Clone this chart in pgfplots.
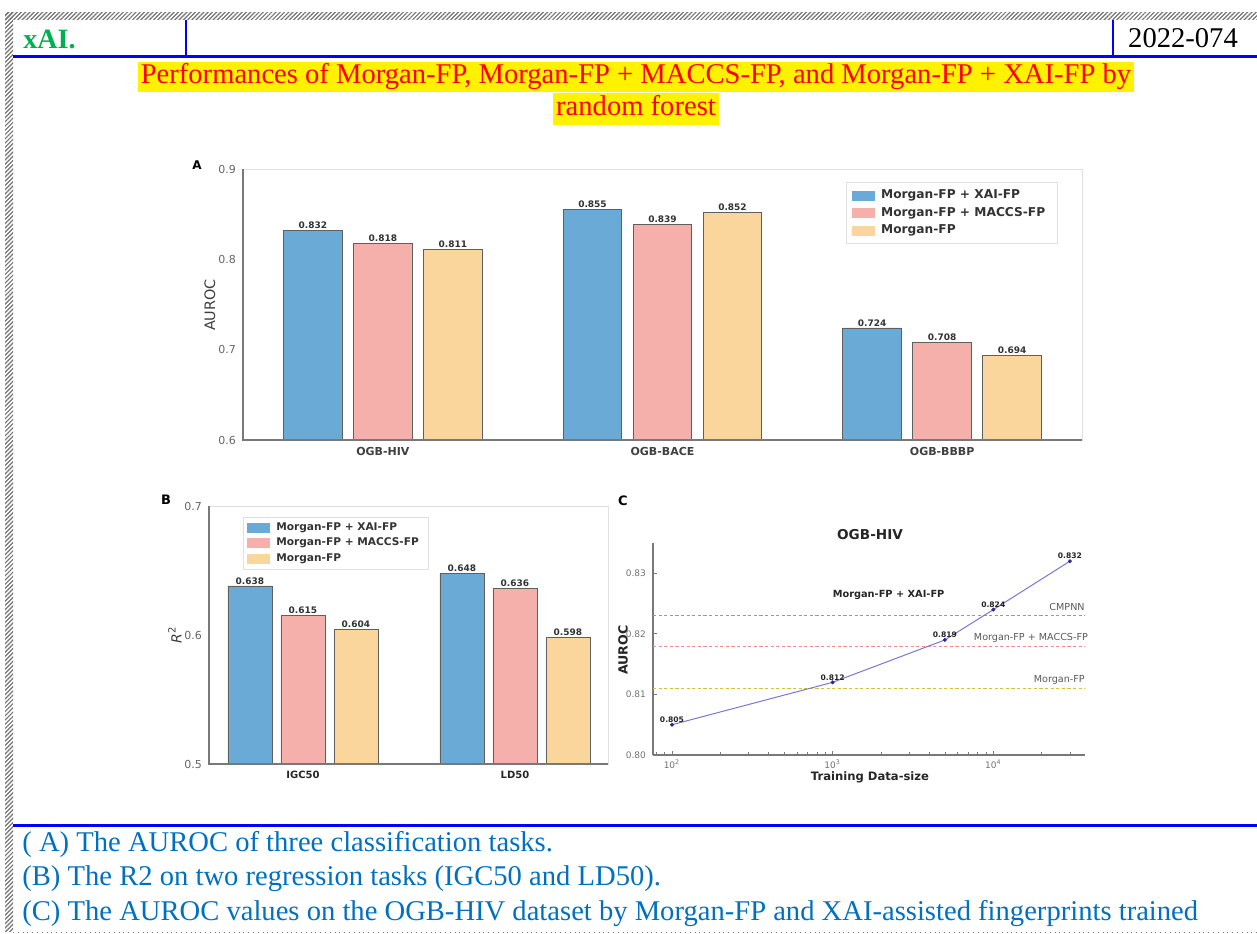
\documentclass[border=0pt]{standalone}
\usepackage{pgfplots}
\pgfplotsset{compat=1.18}
\usetikzlibrary{patterns.meta}
\usepackage{fontspec}
\setmainfont{Liberation Serif}
\newfontfamily\dv{DejaVu Sans}
\newcommand\fs[1]{\fontsize{#1}{#1}\selectfont}
\definecolor{cblue}{RGB}{106,170,214}
\definecolor{cpink}{RGB}{246,176,172}
\definecolor{cpeach}{RGB}{250,214,156}
\definecolor{edge}{RGB}{95,95,95}
\definecolor{spine}{RGB}{120,120,120}
\definecolor{xgreen}{RGB}{0,176,80}
\definecolor{capblue}{RGB}{0,112,192}
\definecolor{lineblue}{RGB}{120,120,210}
\definecolor{dotnavy}{RGB}{40,40,140}
\definecolor{dashred}{RGB}{240,140,140}
\definecolor{dashyel}{RGB}{215,195,50}
\pgfplotsset{
  barpanel/.style={scale only axis, axis line style={black!12, line width=0.4pt},
    major tick length=0pt, tick label style={font=\dv\fs{5.5}, text=black!60},
    legend cell align=left,
    legend image code/.code={\fill[##1,draw=none] (0pt,-2.5pt) rectangle (11.5pt,2.5pt);}},
  vlab/.style={nodes near coords, every node near coord/.append style={xshift=#1, font=\dv\bfseries\fs{4.5}, text=black!80, inner sep=0.7pt, /pgf/number format/.cd, fixed, fixed zerofill, precision=3, assume math mode=true}},
}
\begin{document}
\begin{tikzpicture}
\begin{scope}[x=0.5pt,y=-0.5pt,yshift=466.5pt]
\useasboundingbox (0,0) rectangle (1257,933);
\fill[white] (0,0) rectangle (1257,933);
% hatched borders
\fill[pattern={Lines[angle=45,distance=1.5pt,line width=0.6pt]}, pattern color=black!55] (5,13) rectangle (1257,20);
\fill[pattern={Lines[angle=45,distance=1.5pt,line width=0.6pt]}, pattern color=black!55] (5,13) rectangle (13,931);
\draw[gray, dotted, line width=0.4pt] (13,932) -- (1257,932);
% header
\draw[blue, line width=0.6pt] (186,20) -- (186,57);
\draw[blue, line width=0.6pt] (1113,20) -- (1113,57);
\draw[blue, line width=1.5pt] (13,57) -- (1257,57);
\node[anchor=west, text=xgreen, font=\fs{14}\bfseries, inner sep=0pt] at (23,39) {xAI.};
\node[font=\fs{14.3}, inner sep=0pt] at (1183,38) {2022-074};
% title
\node[fill=yellow, text=red, font=\fs{14.3}, text height=10.3pt, text depth=3.6pt, inner xsep=1.5pt, inner ysep=0.6pt] at (636,77) {Performances of Morgan-FP, Morgan-FP + MACCS-FP, and Morgan-FP + XAI-FP by};
\node[fill=yellow, text=red, font=\fs{14.3}, text height=10.3pt, text depth=3.6pt, inner xsep=1.5pt, inner ysep=1pt] at (636,109) {random forest};
% captions
\draw[blue, line width=1.5pt] (13,825) -- (1257,825);
\node[anchor=west, text=capblue, font=\fs{14.3}, inner sep=0pt] at (22,844) {( A) The AUROC of three classification tasks.};
\node[anchor=west, text=capblue, font=\fs{14.3}, inner sep=0pt] at (22,879) {(B) The R2 on two regression tasks (IGC50 and LD50).};
\node[anchor=west, text=capblue, font=\fs{14.3}, inner sep=0pt] at (22,914) {(C) The AUROC values on the OGB-HIV dataset by Morgan-FP and XAI-assisted fingerprints trained};
% panel texts
\node[font=\dv\bfseries\fs{6}] at (197,165) {A};
\node[rotate=90, font=\dv\fs{7.2}, text=black!75] at (210,305) {AUROC};
\node[font=\dv\bfseries\fs{6.5}] at (166,500) {B};
\node[rotate=90, font=\dv\fs{7}, text=black!75] at (175,635) {\itshape R\textsuperscript{\upshape 2}};
\node[font=\dv\bfseries\fs{6.5}] at (623,501) {C};
\node[font=\dv\bfseries\fs{6.8}, text=black!85] at (870,535) {OGB-HIV};
\node[rotate=90, font=\dv\bfseries\fs{6.3}, text=black!85] at (623,650) {AUROC};
\node[font=\dv\bfseries\fs{5.8}, text=black!85] at (870,777) {Training Data-size};
\end{scope}

% ---------------- Panel A
\begin{axis}[barpanel, name=axA, at={(121.5pt,246.5pt)}, anchor=south west,
  width=419.5pt, height=135.5pt,
  xmin=-0.5, xmax=2.5, ymin=0.6, ymax=0.9,
  ytick={0.6,0.7,0.8,0.9}, yticklabels={0.6,0.7,0.8,0.9},
  xtick={0,1,2}, xticklabels={OGB-HIV,OGB-BACE,OGB-BBBP},
  xticklabel style={font=\dv\bfseries\fs{5.5}, text=black!75},
  legend style={at={(0.971,0.952)}, anchor=north east, draw=black!12, fill=white,
    font=\dv\bfseries\fs{6.1}, text=black!80, row sep=1.6pt, inner xsep=3pt, inner ysep=3pt,
    nodes={inner ysep=0.6pt, inner xsep=3pt}}]
\addplot[ybar, bar width=29.3pt, bar shift=-35pt, fill=cblue, draw=edge, line width=0.4pt, vlab=-35pt] coordinates {(0,0.832) (1,0.855) (2,0.724)};
\addplot[ybar, bar width=29.3pt, bar shift=0pt, fill=cpink, draw=edge, line width=0.4pt, vlab=0pt] coordinates {(0,0.818) (1,0.839) (2,0.708)};
\addplot[ybar, bar width=29.3pt, bar shift=35pt, fill=cpeach, draw=edge, line width=0.4pt, vlab=35pt] coordinates {(0,0.811) (1,0.852) (2,0.694)};
\legend{Morgan-FP + XAI-FP, Morgan-FP + MACCS-FP, Morgan-FP}
\end{axis}
\draw[spine, line width=1pt] (axA.north west) -- (axA.south west) -- (axA.south east);

% ---------------- Panel B
\begin{axis}[barpanel, name=axB, at={(104.5pt,84.5pt)}, anchor=south west,
  width=199.5pt, height=129pt,
  xmin=-0.443, xmax=1.439, ymin=0.5, ymax=0.7,
  ytick={0.5,0.6,0.7}, yticklabels={0.5,0.6,0.7},
  xtick={0,1}, xticklabels={IGC50,LD50},
  xticklabel style={font=\dv\bfseries\fs{5}, text=black!85},
  legend style={at={(0.085,0.957)}, anchor=north west, draw=black!12, fill=white,
    font=\dv\bfseries\fs{5.3}, text=black!80, row sep=1.4pt, inner xsep=2pt, inner ysep=2pt,
    nodes={inner ysep=0.5pt, inner xsep=3pt}}]
\addplot[ybar, bar width=22pt, bar shift=-26.5pt, fill=cblue, draw=edge, line width=0.4pt, vlab=-26.5pt] coordinates {(0,0.638) (1,0.648)};
\addplot[ybar, bar width=22pt, bar shift=0pt, fill=cpink, draw=edge, line width=0.4pt, vlab=0pt] coordinates {(0,0.615) (1,0.636)};
\addplot[ybar, bar width=22pt, bar shift=26.5pt, fill=cpeach, draw=edge, line width=0.4pt, vlab=26.5pt] coordinates {(0,0.604) (1,0.598)};
\legend{Morgan-FP + XAI-FP, Morgan-FP + MACCS-FP, Morgan-FP}
\end{axis}
\draw[spine, line width=1pt] (axB.north west) -- (axB.south west) -- (axB.south east);

% ---------------- Panel C
\begin{axis}[name=axC, at={(326.5pt,89pt)}, anchor=south west, scale only axis,
  width=216pt, height=106pt, xmode=log, xmin=76.2, xmax=37240, ymin=0.80, ymax=0.835,
  ytick={0.80,0.81,0.82,0.83}, yticklabels={0.80,0.81,0.82,0.83},
  xtick={100,1000,10000}, xticklabels={10\textsuperscript{2},10\textsuperscript{3},10\textsuperscript{4}},
  minor xtick={80,90,200,300,400,500,600,700,800,900,2000,3000,4000,5000,6000,7000,8000,9000,20000,30000},
  axis lines*=left, axis line style={-, spine, line width=0.7pt},
  tick style={spine, line width=0.4pt}, major tick length=2.2pt, minor tick length=1.3pt,
  tick label style={font=\dv\fs{4.5}, text=black!55}, xticklabel style={yshift=1.2pt}, clip=false]
\addplot[gray!80, line width=0.45pt, dash pattern=on 1.6pt off 1.2pt] coordinates {(76.2,0.823) (37240,0.823)};
\addplot[dashred, line width=0.45pt, dash pattern=on 1.6pt off 1.2pt] coordinates {(76.2,0.818) (37240,0.818)};
\addplot[dashyel, line width=0.45pt, dash pattern=on 1.6pt off 1.2pt] coordinates {(76.2,0.811) (37240,0.811)};
\addplot[lineblue, line width=0.5pt, mark=*, mark size=0.7pt, mark options={fill=dotnavy, draw=dotnavy},
  nodes near coords, every node near coord/.append style={font=\dv\bfseries\fs{3.8}, text=black!85, inner sep=0.8pt, /pgf/number format/.cd, fixed, fixed zerofill, precision=3, assume math mode=true}]
  coordinates {(100,0.805) (1000,0.812) (5000,0.819) (10000,0.824) (30000,0.832)};
\node[anchor=east, font=\dv\fs{4.8}, text=black!65, inner sep=0pt] at (axis cs:37240,0.8244) {CMPNN};
\node[anchor=east, font=\dv\fs{4.8}, text=black!65, inner sep=0pt] at (axis cs:39000,0.8194) {Morgan-FP + MACCS-FP};
\node[anchor=east, font=\dv\fs{4.8}, text=black!65, inner sep=0pt] at (axis cs:37240,0.8124) {Morgan-FP};
\node[font=\dv\bfseries\fs{4.9}, text=black!85] at (axis cs:2230,0.8264) {Morgan-FP + XAI-FP};
\end{axis}
\end{tikzpicture}
\end{document}
